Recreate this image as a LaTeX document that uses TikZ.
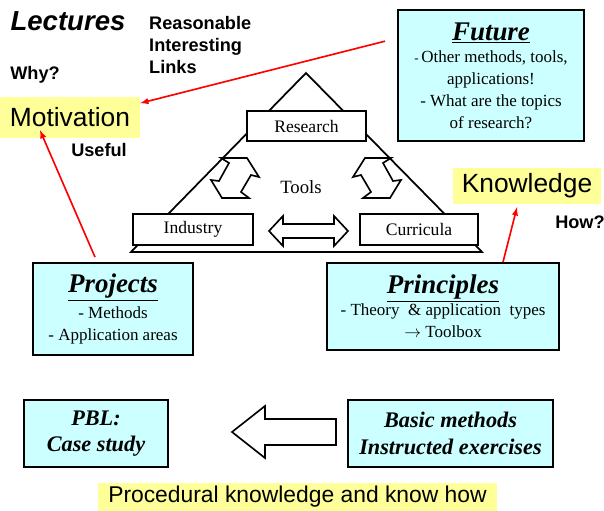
\documentclass[tikz,border=0pt]{standalone}
\usepackage{fontspec}
\setmainfont{Liberation Serif}
\newfontfamily\arialf{Liberation Sans}
\usepackage{tikz}
\definecolor{paleyellow}{RGB}{255,255,153}
\definecolor{palecyan}{RGB}{204,255,255}

\begin{document}
\begin{tikzpicture}[x=0.03cm,y=-0.03cm,
  edge/.style={draw=black, line width=1.5pt, line join=miter},
  hollow/.style={draw=black, line width=1.4pt, fill=white, line join=miter},
  cornerbox/.style={draw=black, line width=1.5pt, fill=white, inner sep=0pt, font=\fontsize{15}{18}\selectfont},
  infobox/.style={draw=black, line width=1.5pt, fill=palecyan, inner sep=0pt, align=center, font=\fontsize{14.5}{18.8}\selectfont},
  headline/.style={fill=paleyellow, inner sep=0pt, font=\arialf\fontsize{22.5}{27}\selectfont},
  cue/.style={font=\arialf\bfseries\fontsize{15.5}{18.8}\selectfont, align=left, inner sep=0pt},
  redarrow/.style={->, >=latex, red, line width=1.4pt}]
\useasboundingbox (0,0) rectangle (604,511);

% triangle of research, industry and curricula
\coordinate (apex) at (306,73);
\coordinate (baseL) at (131,252);
\coordinate (baseR) at (482,252);
\draw[edge] (apex) -- (baseL) -- (baseR) -- cycle;

\node[cornerbox, minimum width=3.57cm, minimum height=0.9cm] (research) at (306.5,126) {Research};
\node[cornerbox, minimum width=3.6cm, minimum height=0.93cm] (industry) at (193,229.5) {Industry};
\node[cornerbox, minimum width=3.54cm, minimum height=0.93cm] (curricula) at (419,229.5) {Curricula};
\node[font=\fontsize{16}{19}\selectfont] (tools) at (301,187) {Tools};

% bent double arrows
\draw[hollow] (221,158) -- (247,158) -- (259,177) -- (251,175) -- (241,192) -- (249,198)
  -- (222,198) -- (211,180) -- (219,181) -- (229,163) -- cycle;
\draw[hollow] (391,158) -- (365,158) -- (353,177) -- (361,175) -- (371,192) -- (363,198)
  -- (390,198) -- (401,180) -- (393,181) -- (383,163) -- cycle;
\draw[hollow] (269,231) -- (283,216) -- (283,224) -- (334,224) -- (334,216) -- (348,231)
  -- (334,246) -- (334,238) -- (283,238) -- (283,246) -- cycle;

% lecture side
\node[font=\arialf\bfseries\itshape\fontsize{23.5}{28}\selectfont, inner sep=0pt] (lectures) at (68,21) {Lectures};
\node[cue, anchor=west] (reasons) at (149,45) {Reasonable\\Interesting\\Links};
\node[cue] (why) at (35,75) {Why?};
\node[headline, minimum width=4.2cm, minimum height=1.23cm] (mot) at (70,117.5) {Motivation};
\node[cue] (useful) at (99,150) {Useful};
\node[headline, minimum width=4.44cm, minimum height=1.08cm] (know) at (527,186) {Knowledge};
\node[cue] (how) at (580,222) {How?};

\node[infobox, minimum width=5.58cm, minimum height=3.93cm] (fut) at (491,75.5)
  {{\fontsize{23}{26}\selectfont\bfseries\itshape\underline{Future}}\\
   {\fontsize{11}{13}\selectfont -}\,Other methods, tools,\\ applications!\\ - What are the topics\\ of research?};
\node[infobox, minimum width=4.8cm, minimum height=2.76cm] (proj) at (113,309)
  {{\fontsize{23}{26}\selectfont\bfseries\itshape\underline{Projects}}\\[3pt]
   - Methods\\ - Application areas};
\node[infobox, minimum width=6.96cm, minimum height=2.61cm] (prin) at (443,306.5)
  {{\fontsize{23}{26}\selectfont\bfseries\itshape\underline{Principles}}\\
   - Theory \ \& application \ types\\ {\arialf$\rightarrow$} Toolbox};

% bottom row
\node[infobox, minimum width=4.32cm, minimum height=2.01cm, font=\bfseries\itshape\fontsize{19}{22.5}\selectfont] (pbl) at (96,433.5)
  {PBL:\\ Case study};
\node[infobox, minimum width=6.15cm, minimum height=2.01cm, font=\bfseries\itshape\fontsize{19}{22.5}\selectfont] (basic) at (450.5,433.5)
  {Basic methods\\ Instructed exercises};
\draw[hollow] (232,432) -- (265,406) -- (265,419) -- (336,419) -- (336,445) -- (265,445) -- (265,458) -- cycle;
\node[fill=paleyellow, inner sep=0pt, minimum width=11.97cm, minimum height=0.84cm, font=\arialf\fontsize{19.5}{23}\selectfont] (proc) at (297.5,497)
  {Procedural knowledge and know how};

% links
\draw[redarrow] ([xshift=-0.36cm,yshift=1.03cm]fut.west) -- ([yshift=0.43cm]mot.east);
\draw[redarrow] ([xshift=-0.54cm,yshift=0.15cm]proj.north) -- ([xshift=-0.9cm,yshift=0.24cm]mot.south);
\draw[redarrow] ([xshift=1.8cm]prin.north) -- ([xshift=-0.3cm,yshift=-0.09cm]know.south);
\end{tikzpicture}
\end{document}
